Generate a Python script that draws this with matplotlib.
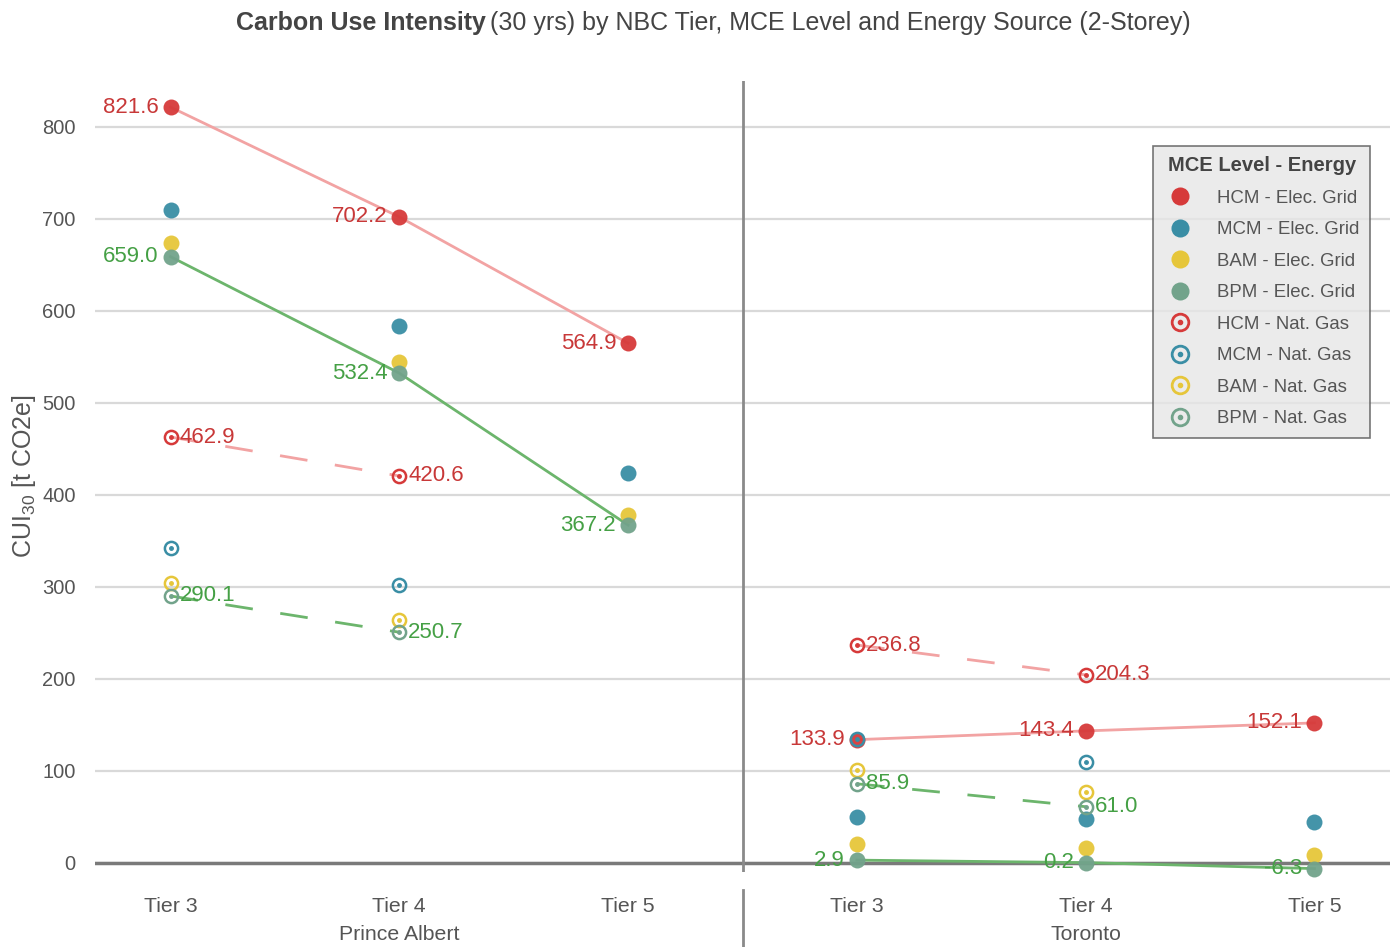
import numpy as np
import matplotlib
matplotlib.use('Agg')
import matplotlib.pyplot as plt
from matplotlib.lines import Line2D
from matplotlib.legend_handler import HandlerTuple

plt.rcParams['font.family'] = ['Liberation Sans', 'DejaVu Sans']
plt.rcParams['mathtext.fontset'] = 'custom'
plt.rcParams['mathtext.rm'] = 'Liberation Sans'
plt.rcParams['mathtext.it'] = 'Liberation Sans:italic'

# data: 6 positions = Prince Albert T3,T4,T5 then Toronto T3,T4,T5
locations = ['Prince Albert', 'Toronto']
tiers = ['Tier 3', 'Tier 4', 'Tier 5']
nan = np.nan

hcm_elec = [821.6, 702.2, 564.9, 133.9, 143.4, 152.1]
mcm_elec = [709.8, 583.7, 423.9, 50.0, 47.8, 44.6]
bam_elec = [673.9, 544.6, 378.3, 20.7, 16.3, 8.7]
bpm_elec = [659.0, 532.4, 367.2, 2.9, 0.2, -6.3]
hcm_gas = [462.9, 420.6, nan, 236.8, 204.3, nan]
mcm_gas = [342.4, 302.2, nan, 134.8, 109.8, nan]
bam_gas = [304.3, 264.1, nan, 101.0, 77.2, nan]
bpm_gas = [290.1, 250.7, nan, 85.9, 61.0, nan]

levels = ['HCM', 'MCM', 'BAM', 'BPM']
colors = {'HCM': '#d63a3a', 'MCM': '#3a8ea5', 'BAM': '#e6c63a', 'BPM': '#72a38b'}
elec = {'HCM': hcm_elec, 'MCM': mcm_elec, 'BAM': bam_elec, 'BPM': bpm_elec}
gas = {'HCM': hcm_gas, 'MCM': mcm_gas, 'BAM': bam_gas, 'BPM': bpm_gas}
line_col = {'HCM': '#f2a3a3', 'BPM': '#6cb56c'}
text_col = {'HCM': '#c83838', 'BPM': '#45a045'}

W, H = 1395, 947
fig = plt.figure(figsize=(W / 100, H / 100), dpi=100)
ax = fig.add_axes([95 / W, 1 - 872 / H, 1295 / W, 791 / H])

x = np.arange(6)
ax.set_xlim(-0.33, 5.33)
ax.set_ylim(-10, 850)

for s in ax.spines.values():
    s.set_visible(False)
ax.set_yticks([0, 100, 200, 300, 400, 500, 600, 700, 800])
ax.yaxis.grid(True, color='#d9d9d9', lw=1.6, zorder=0)
ax.set_axisbelow(True)
ax.tick_params(axis='y', length=0, pad=14, labelsize=14.5, labelcolor='#555555')
ax.set_xticks(x)
ax.set_xticklabels(tiers * 2)
ax.tick_params(axis='x', length=0, pad=18, labelsize=15.3, labelcolor='#555555')
ax.axhline(0, color='#7a7a7a', lw=2.5, zorder=1)
ax.axvline(2.5, color='#8a8a8a', lw=2, zorder=1)

# lines for HCM and BPM only
for lev in ['HCM', 'BPM']:
    for grp in [slice(0, 3), slice(3, 6)]:
        xs = x[grp]
        ye = np.array(elec[lev][grp])
        ax.plot(xs, ye, color=line_col[lev], lw=2, zorder=2)
        yg = np.array(gas[lev][grp])
        m = ~np.isnan(yg)
        ax.plot(xs[m], yg[m], color=line_col[lev], lw=2, ls=(0, (10, 10)), zorder=2)

handles = []
labels = []
for lev in levels:
    ax.plot(x, elec[lev], 'o', ls='none', ms=11.5, color=colors[lev], alpha=0.95,
            mec='none', zorder=3, clip_on=False)
    handles.append(Line2D([], [], marker='o', ls='none', ms=13, color=colors[lev], mec='none'))
    labels.append(lev + ' - Elec. Grid')
for lev in levels:
    ax.plot(x, gas[lev], 'o', ls='none', ms=9.5, mfc='none', mec=colors[lev], mew=1.8, zorder=3)
    ax.plot(x, gas[lev], 'o', ls='none', ms=2.5, color=colors[lev], zorder=3)
    ring = Line2D([], [], marker='o', ls='none', ms=12, mfc='none', mec=colors[lev], mew=2)
    dot = Line2D([], [], marker='o', ls='none', ms=3, color=colors[lev])
    handles.append((ring, dot))
    labels.append(lev + ' - Nat. Gas')

# value labels
for lev in ['HCM', 'BPM']:
    for i, v in enumerate(elec[lev]):
        ax.annotate(f'{v:.1f}', (x[i], v), xytext=(-12, 0), textcoords='offset pixels',
                    ha='right', va='center', fontsize=16, color=text_col[lev], zorder=4)
    for i, v in enumerate(gas[lev]):
        if np.isnan(v):
            continue
        ax.annotate(f'{v:.1f}', (x[i], v), xytext=(9, 0), textcoords='offset pixels',
                    ha='left', va='center', fontsize=16, color=text_col[lev], zorder=4)

leg = ax.legend(handles, labels, title='MCE Level - Energy', loc='upper right',
                bbox_to_anchor=(0.9846, 0.918), borderaxespad=0, fontsize=13.4,
                title_fontproperties={'weight': 'bold', 'size': 14.5},
                handler_map={tuple: HandlerTuple(ndivide=1)},
                frameon=True, fancybox=False, facecolor='#e6e6e6', edgecolor='#555555',
                labelspacing=0.78, handletextpad=1.1, borderpad=0.55, handlelength=1.8)
leg.get_frame().set_linewidth(1.2)
leg.get_title().set_color('#444444')
for t in leg.get_texts():
    t.set_color('#555555')

# location labels and separator under the axis
for j, loc in enumerate(locations):
    fig.text((95 + (1 + 3 * j + 0.33) * 228.8) / W, 1 - 934 / H, loc,
             ha='center', va='center', fontsize=15.3, color='#555555')
fig.add_artist(Line2D([743 / W, 743 / W], [1 - 890 / H, 0], color='#8a8a8a', lw=2))

ax.set_ylabel('CUI$_{30}$ [t CO2e]', fontsize=18, color='#555555', labelpad=3)

fig.text(486 / W, 1 - 23 / H, 'Carbon Use Intensity', ha='right', va='center',
         fontsize=18, fontweight='bold', color='#444444')
fig.text(490 / W, 1 - 23 / H, '(30 yrs) by NBC Tier, MCE Level and Energy Source (2-Storey)',
         ha='left', va='center', fontsize=18, color='#444444')

fig.savefig('out.png', dpi=100)
